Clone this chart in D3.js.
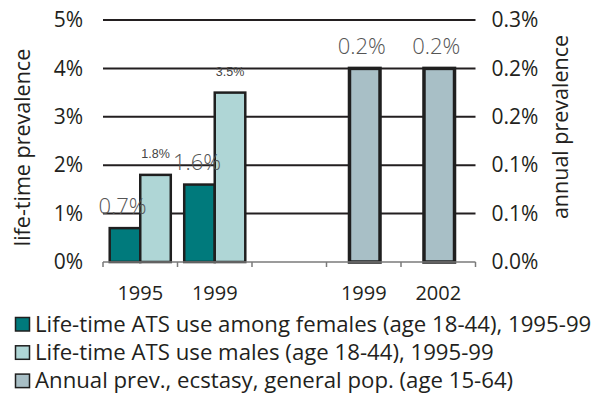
<!DOCTYPE html>
<html>
<head>
<meta charset="utf-8">
<script src="https://cdn.jsdelivr.net/npm/d3@7"></script>
<style>
  html, body { margin: 0; padding: 0; background: #fff; }
  svg { display: block; font-family: "Open Sans", "Noto Sans", sans-serif; }
</style>
</head>
<body>
<svg id="chart" width="599" height="396"></svg>
<script>
// Category slots along the x axis (the middle slot is an intentional gap)
const categories = ["1995", "1999", "", "1999", "2002"];

// Life-time ATS use (left axis, %), slots 0 and 1
const lifetimeSlots = [0, 1];
const lifetimeFemales = [0.7, 1.6];
const lifetimeMales = [1.8, 3.5];

// Annual prevalence of ecstasy (right axis, %), slots 3 and 4
const annualSlots = [3, 4];
const annualEcstasy = [0.2, 0.2];

// Axis ticks
const leftTicks = [0, 1, 2, 3, 4, 5];
const leftTickLabels = ["0%", "1%", "2%", "3%", "4%", "5%"];
const rightTicks = [0, 0.05, 0.1, 0.15, 0.2, 0.25];
const rightTickLabels = ["0.0%", "0.1%", "0.1%", "0.2%", "0.2%", "0.3%"];

const legendItems = [
  "Life-time ATS use among females (age 18-44), 1995-99",
  "Life-time ATS use males (age 18-44), 1995-99",
  "Annual prev., ecstasy, general pop. (age 15-64)"
];

const colors = { female: "#007a7c", male: "#afd6d6", annual: "#a8bfc6" };
const ink = "#231f20";

const svg = d3.select("#chart");
const plot = { left: 103, right: 475.5, top: 20, bottom: 262 };

const x = d3.scaleBand().domain(d3.range(categories.length))
  .range([plot.left, plot.right]).padding(0);
const x1 = d3.scaleBand().domain([0, 1]).range([0, x.bandwidth()])
  .paddingInner(0).paddingOuter(0.22);
const yL = d3.scaleLinear().domain([0, 5]).range([plot.bottom, plot.top]);
const yR = d3.scaleLinear().domain([0, 0.25]).range([plot.bottom, plot.top]);

// Horizontal gridlines
svg.append("g").selectAll("line").data(leftTicks.slice(1)).join("line")
  .attr("x1", plot.left).attr("x2", plot.right)
  .attr("y1", d => yL(d)).attr("y2", d => yL(d))
  .attr("stroke", ink).attr("stroke-width", 2);

// Left axis labels
const leftAxis = d3.axisLeft(yL).tickValues(leftTicks)
  .tickFormat((d, i) => leftTickLabels[i]).tickSize(0).tickPadding(20);
const gL = svg.append("g").attr("transform", `translate(${plot.left},0)`).call(leftAxis);
gL.select(".domain").remove();
gL.selectAll("text").attr("font-size", 21).attr("fill", ink)
  .attr("font-family", "Open Sans");

// Right axis labels
const rightAxis = d3.axisRight(yR).tickValues(rightTicks)
  .tickFormat((d, i) => rightTickLabels[i]).tickSize(0).tickPadding(16);
const gR = svg.append("g").attr("transform", `translate(${plot.right},0)`).call(rightAxis);
gR.select(".domain").remove();
gR.selectAll("text").attr("font-size", 21).attr("fill", ink)
  .attr("font-family", "Open Sans");

// Life-time bars
const lifetime = lifetimeSlots.map((s, i) => ({ slot: s, f: lifetimeFemales[i], m: lifetimeMales[i] }));
const gBars = svg.append("g");
lifetime.forEach(d => {
  [["f", colors.female], ["m", colors.male]].forEach(([k, c], j) => {
    gBars.append("rect")
      .attr("x", x(d.slot) + x1(j)).attr("width", x1.bandwidth())
      .attr("y", yL(d[k])).attr("height", yL(0) - yL(d[k]))
      .attr("fill", c).attr("stroke", "#1f1f1f").attr("stroke-width", 2.5);
  });
});

// Annual ecstasy bars (right axis)
const annual = annualSlots.map((s, i) => ({ slot: s, v: annualEcstasy[i] }));
gBars.selectAll("rect.annual").data(annual).join("rect").attr("class", "annual")
  .attr("x", d => x(d.slot) + (x.bandwidth() - x1.bandwidth()) / 2 + 1)
  .attr("width", x1.bandwidth())
  .attr("y", d => yR(d.v)).attr("height", d => yR(0) - yR(d.v))
  .attr("fill", colors.annual).attr("stroke", "#1f1f1f").attr("stroke-width", 3.5);

// Value labels
const fmt = v => v.toFixed(1) + "%";
lifetime.forEach(d => {
  svg.append("text")
    .attr("x", x(d.slot) + x1(0) + x1.bandwidth() / 2 - 2.5)
    .attr("y", yL(d.f) - 14.5)
    .attr("text-anchor", "middle").attr("font-size", 22).attr("font-weight", 300)
    .attr("fill", "#555").attr("font-family", "Open Sans")
    .text(fmt(d.f));
  svg.append("text")
    .attr("x", x(d.slot) + x1(1) + x1.bandwidth() / 2)
    .attr("y", yL(d.m) - 17)
    .attr("text-anchor", "middle").attr("font-size", 12.5)
    .attr("fill", "#444").attr("font-family", "Liberation Sans, Arial, sans-serif")
    .text(fmt(d.m));
});
svg.append("g").selectAll("text").data(annual).join("text")
  .attr("x", d => x(d.slot) + x.bandwidth() / 2 - 2)
  .attr("y", d => yR(d.v) - 14.5)
  .attr("text-anchor", "middle").attr("font-size", 22).attr("font-weight", 300)
  .attr("fill", "#555").attr("font-family", "Open Sans")
  .text(d => fmt(d.v));

// X axis baseline, boundary ticks and labels
const gX = svg.append("g");
gX.append("line").attr("x1", plot.left).attr("x2", plot.right)
  .attr("y1", plot.bottom).attr("y2", plot.bottom)
  .attr("stroke", "#7a7a7a").attr("stroke-width", 1.5);
const bounds = d3.range(categories.length + 1).map(i => plot.left + i * x.step());
gX.selectAll("line.tick").data(bounds).join("line").attr("class", "tick")
  .attr("x1", d => d).attr("x2", d => d)
  .attr("y1", plot.bottom).attr("y2", plot.bottom + 5)
  .attr("stroke", "#7a7a7a").attr("stroke-width", 1.5);
const bottomAxis = d3.axisBottom(x).tickFormat(i => categories[i]).tickSize(0).tickPadding(24);
const gXA = svg.append("g").attr("transform", `translate(0,${plot.bottom})`).call(bottomAxis);
gXA.select(".domain").remove();
gXA.selectAll("text").attr("font-size", 20).attr("fill", ink)
  .attr("font-family", "Open Sans");

// Axis titles
svg.append("text")
  .attr("transform", `translate(30,147.5) rotate(-90)`)
  .attr("text-anchor", "middle").attr("font-size", 21.5).attr("fill", ink)
  .text("life-time prevalence");
svg.append("text")
  .attr("transform", `translate(567.5,127) rotate(-90)`)
  .attr("text-anchor", "middle").attr("font-size", 21.5).attr("fill", ink)
  .text("annual prevalence");

// Legend
const legendColors = [colors.female, colors.male, colors.annual];
const gLeg = svg.append("g");
legendItems.forEach((t, i) => {
  const yb = 331.5 + i * 28.3;
  gLeg.append("rect").attr("x", 15.5).attr("y", yb - 14).attr("width", 14).attr("height", 13.5)
    .attr("fill", legendColors[i]).attr("stroke", "#1f1f1f").attr("stroke-width", 1.5);
  gLeg.append("text").attr("x", 35).attr("y", yb)
    .attr("font-size", 22.2).attr("fill", ink).text(t);
});
</script>
</body>
</html>
